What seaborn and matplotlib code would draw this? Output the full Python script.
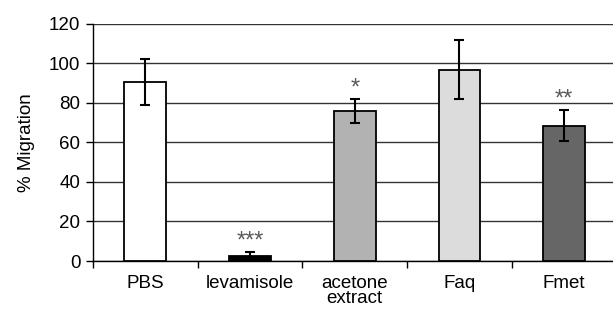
import matplotlib
matplotlib.use("Agg")
import matplotlib.pyplot as plt
import seaborn as sns
import pandas as pd
import numpy as np

categories = ["PBS", "levamisole", "acetone\nextract", "Faq", "Fmet"]
values = [90.3, 2.5, 75.9, 96.7, 68.4]
errors = [11.6, 1.9, 6.0, 15.0, 7.8]
stars = ["", "***", "*", "", "**"]
colors = ["#ffffff", "#000000", "#b2b2b2", "#dcdcdc", "#666666"]
yticks = [0, 20, 40, 60, 80, 100, 120]

sns.set_theme(style="white")
plt.rcParams["font.family"] = ["Liberation Sans", "DejaVu Sans"]
plt.rcParams["text.color"] = "black"
plt.rcParams["xtick.color"] = "black"
plt.rcParams["ytick.color"] = "black"
plt.rcParams["axes.labelcolor"] = "black"

FS = 13.5

df = pd.DataFrame({"cat": categories, "val": values})

fig = plt.figure(figsize=(6.13, 3.13), dpi=100)
ax = fig.add_axes([93 / 613, 1 - 261 / 313, (616.5 - 93) / 613, (261 - 23.5) / 313])

sns.barplot(data=df, x="cat", y="val", hue="cat", palette=colors, legend=False,
            width=0.4, edgecolor="black", linewidth=1.3, ax=ax, zorder=3)

x = np.arange(len(categories))
ax.errorbar(x, values, yerr=errors, fmt="none", ecolor="black", elinewidth=1.5,
            capsize=3.8, capthick=1.5, zorder=4)

for xi, v, e, s in zip(x, values, errors, stars):
    if s:
        ax.text(xi, v + e + 2.4, s, ha="center", va="baseline", color="#5a5a5a",
                fontsize=17)

ax.set_ylim(0, 120)
ax.set_xlim(-0.5, len(categories) - 0.5)
ax.set_yticks(yticks)
ax.yaxis.grid(True, color="#333333", linewidth=1.0, zorder=0)
ax.set_axisbelow(True)

for sp in ["top", "right"]:
    ax.spines[sp].set_visible(False)
for sp in ["left", "bottom"]:
    ax.spines[sp].set_visible(True)
    ax.spines[sp].set_color("black")
    ax.spines[sp].set_linewidth(1.0)

ax.tick_params(axis="y", which="major", direction="out", length=5, width=1,
               color="black", labelsize=FS, pad=4, left=True)
ax.tick_params(axis="x", which="major", length=0, labelsize=FS, pad=10)
ax.set_xticks(np.arange(-0.5, len(categories), 1.0), minor=True)
ax.tick_params(axis="x", which="minor", direction="out", length=5, width=1,
               color="black", bottom=True)
for lbl in ax.get_xticklabels():
    lbl.set_linespacing(0.85)

ax.set_xlabel("")
ax.set_ylabel("% Migration", fontsize=FS, labelpad=10)

fig.savefig("out.png", dpi=100)
